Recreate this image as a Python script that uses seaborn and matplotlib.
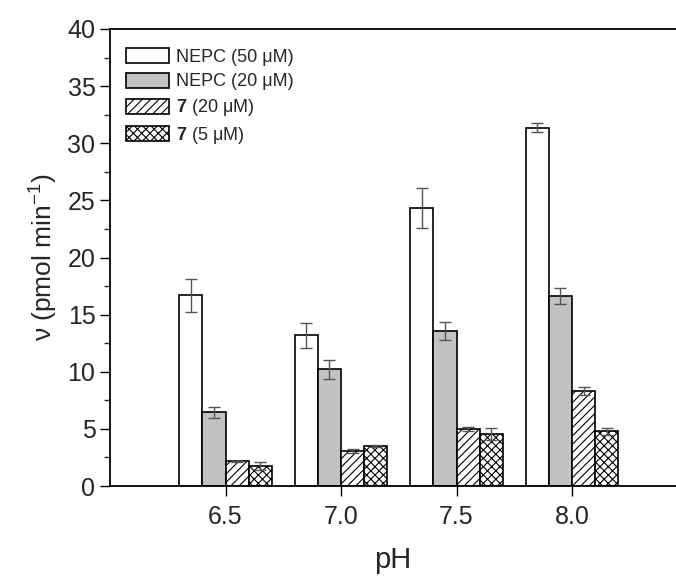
import matplotlib
matplotlib.use("Agg")
import matplotlib.pyplot as plt
import matplotlib.patches as mpatches
from matplotlib.ticker import MultipleLocator
import seaborn as sns
import pandas as pd
import numpy as np

# ---- data ----
ph_labels = ["6.5", "7.0", "7.5", "8.0"]
series = ["NEPC (50 μM)", "NEPC (20 μM)", "7 (20 μM)", "7 (5 μM)"]
nepc50 = [16.7, 13.2, 24.3, 31.35]
nepc50_err = [1.45, 1.1, 1.75, 0.4]
nepc20 = [6.45, 10.2, 13.55, 16.65]
nepc20_err = [0.5, 0.8, 0.8, 0.7]
c7_20 = [2.15, 3.05, 5.0, 8.3]
c7_20_err = [0.05, 0.2, 0.15, 0.35]
c7_5 = [1.75, 3.5, 4.55, 4.8]
c7_5_err = [0.35, 0.1, 0.5, 0.3]

values = [nepc50, nepc20, c7_20, c7_5]
errors = [nepc50_err, nepc20_err, c7_20_err, c7_5_err]

sns.set_style("ticks")
plt.rcParams["font.family"] = ["Liberation Sans", "DejaVu Sans"]
plt.rcParams["mathtext.fontset"] = "custom"
plt.rcParams["mathtext.rm"] = "Liberation Sans"
plt.rcParams["mathtext.bf"] = "Liberation Sans:bold"
plt.rcParams["hatch.linewidth"] = 0.8

rows = []
for s, vals in zip(series, values):
    for p, v in zip(ph_labels, vals):
        rows.append({"pH": p, "series": s, "v": v})
df = pd.DataFrame(rows)

fills = ["white", "#c2c2c2", "white", "white"]
hatches = [None, None, "////", "xxxx"]

fig = plt.figure(figsize=(6.76, 5.78), dpi=100)
ax = fig.add_axes([110 / 676, 1 - 486 / 578, 1 - 110 / 676, (486 - 29) / 578])

sns.barplot(data=df, x="pH", y="v", hue="series", order=ph_labels,
            hue_order=series, palette=fills, errorbar=None, width=0.8,
            gap=0, edgecolor="black", linewidth=1.2, saturation=1,
            legend=False, ax=ax)

for cont, hatch, errs in zip(ax.containers, hatches, errors):
    xs = []
    hs = []
    for patch in cont.patches:
        if hatch:
            patch.set_hatch(hatch)
        xs.append(patch.get_x() + patch.get_width() / 2)
        hs.append(patch.get_height())
    ax.errorbar(xs, hs, yerr=errs, fmt="none", ecolor="#555555",
                elinewidth=1.0, capsize=4.5, capthick=1.0, zorder=5)

ax.set_xlim(-1.0, 3.9)
ax.set_ylim(0, 40)
ax.yaxis.set_major_locator(MultipleLocator(5))
ax.yaxis.set_minor_locator(MultipleLocator(2.5))
ax.tick_params(axis="both", which="major", labelsize=18, length=7,
               width=1.0, direction="out", color="black")
ax.tick_params(axis="y", which="minor", length=4, width=1.0)
ax.tick_params(axis="x", pad=7)
for side in ["left", "bottom", "top"]:
    ax.spines[side].set_linewidth(1.3)
    ax.spines[side].set_color("black")
ax.spines["right"].set_visible(False)

ax.set_xlabel("pH", fontsize=21, labelpad=12)
ax.set_ylabel(r"ν (pmol min$^{-1}$)", fontsize=19, labelpad=6)

labels = ["NEPC (50 μM)", "NEPC (20 μM)", r"$\mathbf{7}$ (20 μM)",
          r"$\mathbf{7}$ (5 μM)"]
handles = [mpatches.Patch(facecolor=f, edgecolor="black", hatch=h,
                          linewidth=1.2) for f, h in zip(fills, hatches)]
ax.legend(handles, labels, loc="upper left", bbox_to_anchor=(0.028, 0.958),
          frameon=False, fontsize=13, handlelength=2.4, handleheight=0.9,
          handletextpad=0.4, labelspacing=0.38, borderaxespad=0,
          borderpad=0)

fig.savefig("out.png", dpi=100)
